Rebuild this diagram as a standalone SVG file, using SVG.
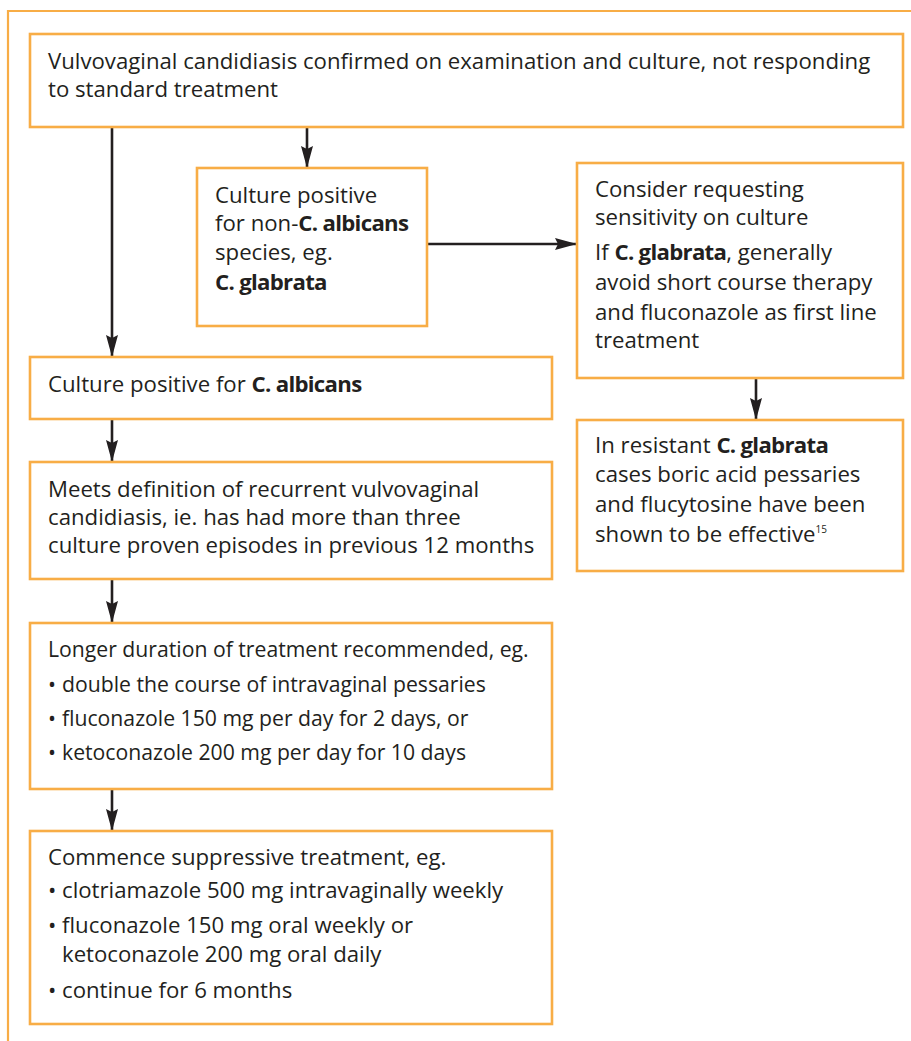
<svg xmlns="http://www.w3.org/2000/svg" width="911" height="1041" viewBox="0 0 911 1041">
<style>
.box{fill:#fff;stroke:#F8AD46;stroke-width:2.6}
.frame{fill:none;stroke:#F8AD46;stroke-width:2.2}
.t{font-family:"Open Sans","Liberation Sans",Arial,sans-serif;font-size:22.2px;fill:#231F20}
.s{font-size:21.2px}
.b{font-weight:bold;letter-spacing:-0.7px}
.c{fill:none;stroke:#231F20;stroke-width:2.6}
</style>
<defs>
<marker id="ah" markerUnits="userSpaceOnUse" markerWidth="24" markerHeight="14" refX="22" refY="6" orient="auto">
<path d="M0,0 L22,6 L0,12 L3,6 z" fill="#231F20"/>
</marker>
</defs>
<rect width="911" height="1041" fill="#fff"/>
<path class="frame" d="M8,1041 V11 H911"/>

<g id="connectors">
<line class="c" x1="112" y1="128" x2="112" y2="357" marker-end="url(#ah)"/>
<line class="c" x1="307" y1="128" x2="307" y2="168" marker-end="url(#ah)"/>
<line class="c" x1="428" y1="244" x2="577" y2="244" marker-end="url(#ah)"/>
<line class="c" x1="756" y1="378" x2="756" y2="420" marker-end="url(#ah)"/>
<line class="c" x1="112" y1="419" x2="112" y2="462" marker-end="url(#ah)"/>
<line class="c" x1="112" y1="580" x2="112" y2="623" marker-end="url(#ah)"/>
<line class="c" x1="112" y1="790" x2="112" y2="831" marker-end="url(#ah)"/>
</g>

<g id="start">
<rect class="box" x="30" y="34" width="873" height="93"/>
<text class="t" x="48" y="69">Vulvovaginal candidiasis confirmed on examination and culture, not responding</text>
<text class="t" x="48" y="97">to standard treatment</text>
</g>

<g id="nonalbicans">
<rect class="box" x="197" y="168" width="230" height="158"/>
<text class="t" x="215" y="203">Culture positive</text>
<text class="t" x="215" y="231">for non-<tspan class="b">C. albicans</tspan></text>
<text class="t" x="215" y="260">species, eg.</text>
<text class="t b" x="215" y="290">C. glabrata</text>
</g>

<g id="sensitivity">
<rect class="box" x="577" y="163" width="326" height="215"/>
<text class="t" x="595" y="197">Consider requesting</text>
<text class="t" x="595" y="225">sensitivity on culture</text>
<text class="t" x="595" y="260">If <tspan class="b">C. glabrata</tspan>, generally</text>
<text class="t" x="595" y="290">avoid short course therapy</text>
<text class="t" x="595" y="320">and fluconazole as first line</text>
<text class="t" x="595" y="348">treatment</text>
</g>

<g id="resistant">
<rect class="box" x="577" y="420" width="326" height="151"/>
<text class="t" x="595" y="453">In resistant <tspan class="b">C. glabrata</tspan></text>
<text class="t" x="595" y="482">cases boric acid pessaries</text>
<text class="t" x="595" y="512">and flucytosine have been</text>
<text class="t" x="595" y="542">shown to be effective<tspan font-size="10" dy="-9">15</tspan></text>
</g>

<g id="albicans">
<rect class="box" x="30" y="357" width="522" height="62"/>
<text class="t" x="48" y="392">Culture positive for <tspan class="b">C. albicans</tspan></text>
</g>

<g id="recurrent">
<rect class="box" x="30" y="462" width="522" height="117"/>
<text class="t" x="48" y="497">Meets definition of recurrent vulvovaginal</text>
<text class="t" x="48" y="525">candidiasis, ie. has had more than three</text>
<text class="t" x="48" y="553">culture proven episodes in previous 12 months</text>
</g>

<g id="longer">
<rect class="box" x="30" y="623" width="522" height="166"/>
<text class="t s" x="48" y="657">Longer duration of treatment recommended, eg.</text>
<text class="t s" x="48" y="692">•<tspan x="62">double the course of intravaginal pessaries</tspan></text>
<text class="t s" x="48" y="726">•<tspan x="62">fluconazole 150 mg per day for 2 days, or</tspan></text>
<text class="t s" x="48" y="760">•<tspan x="62">ketoconazole 200 mg per day for 10 days</tspan></text>
</g>

<g id="suppressive">
<rect class="box" x="30" y="831" width="522" height="193"/>
<text class="t" x="48" y="865">Commence suppressive treatment, eg.</text>
<text class="t" x="48" y="898">•<tspan x="62">clotriamazole 500 mg intravaginally weekly</tspan></text>
<text class="t" x="48" y="933">•<tspan x="62">fluconazole 150 mg oral weekly or</tspan></text>
<text class="t" x="62" y="962">ketoconazole 200 mg oral daily</text>
<text class="t" x="48" y="998">•<tspan x="62">continue for 6 months</tspan></text>
</g>
</svg>
